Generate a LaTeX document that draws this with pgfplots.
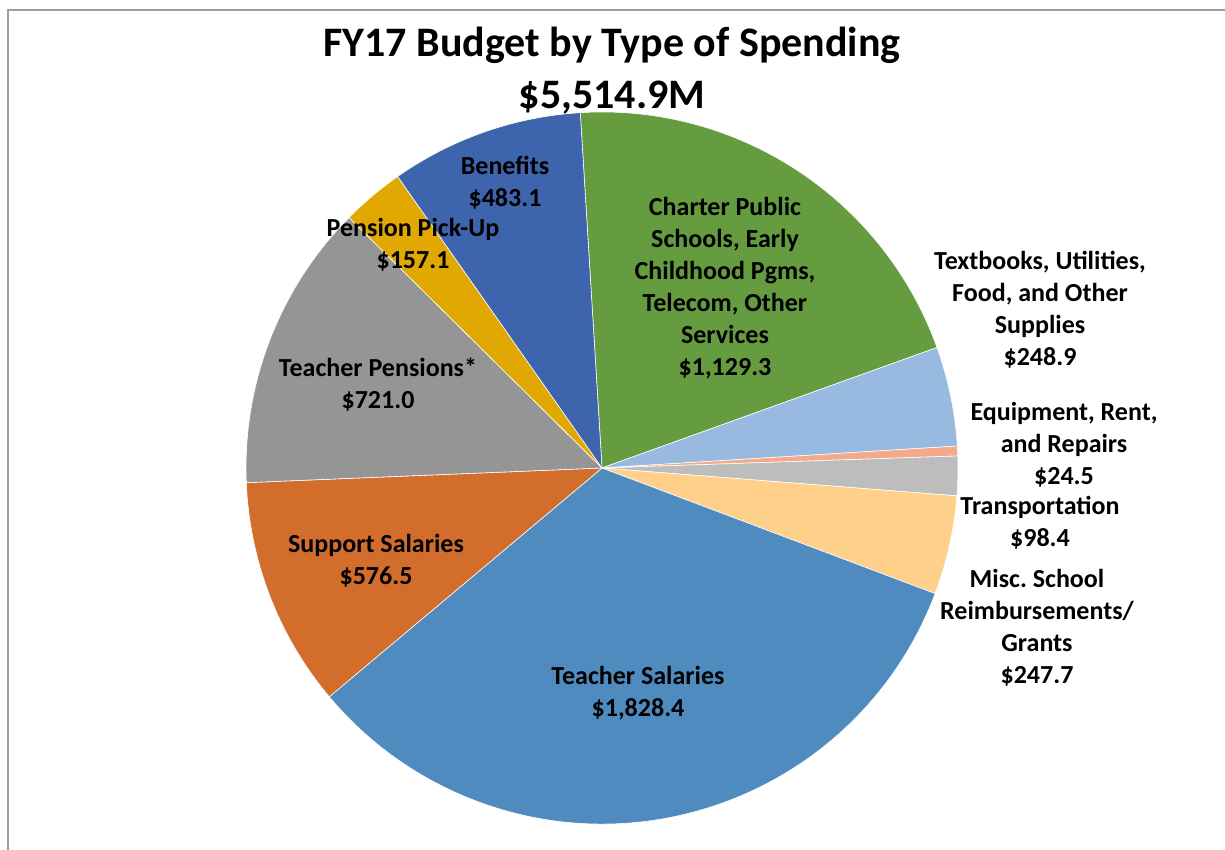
\documentclass[border=0pt]{standalone}
\usepackage{pgfplots}
\usepackage{pgfplotstable}
\pgfplotsset{compat=1.18}
\usepackage{fontspec}
\setmainfont{Carlito}
\frenchspacing

\definecolor{cCharter}{HTML}{659C40}
\definecolor{cText}{HTML}{98B9E0}
\definecolor{cEquip}{HTML}{F4A98A}
\definecolor{cTrans}{HTML}{BDBDBD}
\definecolor{cMisc}{HTML}{FFD08A}
\definecolor{cTeach}{HTML}{508BBF}
\definecolor{cSupport}{HTML}{D36D2B}
\definecolor{cPens}{HTML}{959595}
\definecolor{cPick}{HTML}{E0A800}
\definecolor{cBen}{HTML}{3D64AD}

\tikzset{lbl/.style={font=\fontsize{26}{32}\selectfont\bfseries, align=center, inner sep=0pt}}

% FY17 budget, $M, clockwise from 12 o'clock
\pgfplotstableread{
value  color
1129.3 cCharter
248.9  cText
24.5   cEquip
98.4   cTrans
247.7  cMisc
1828.4 cTeach
576.5  cSupport
721.0  cPens
157.1  cPick
483.1  cBen
}\budget

\begin{document}
\begin{tikzpicture}
\begin{axis}[
hide axis,
scale only axis,
width=1225pt, height=850pt,
xmin=0, xmax=1225, ymin=0, ymax=850,
clip=false,
]
\coordinate (bl) at (axis cs:0,0);
\coordinate (tr) at (axis cs:1225,850);
\draw[black!38, line width=2pt] (axis cs:8,0) -- (axis cs:8,840) -- (axis cs:1225,840);

\def\cum{0}
\pgfplotsforeachungrouped \i in {0,...,9}{
  \pgfplotstablegetelem{\i}{value}\of\budget \let\val\pgfplotsretval
  \pgfplotstablegetelem{\i}{color}\of\budget \let\col\pgfplotsretval
  \pgfmathsetmacro\aS{93.5-(\cum/5514.9)*360}
  \pgfmathsetmacro\aD{-(\val/5514.9)*360}
  \edef\doslice{\noexpand\fill[\col, draw=white, line width=0.6pt]
    (axis cs:602,382) -- ([shift={(\aS:356pt)}]axis cs:602,382)
    arc[start angle=\aS, delta angle=\aD, radius=356pt] -- cycle;}
  \doslice
  \pgfmathsetmacro\cum{\cum+\val}
}

\node[anchor=base, font=\fontsize{42}{50}\selectfont\bfseries] at (axis cs:612,793) {FY17 Budget by Type of Spending};
\node[anchor=base, font=\fontsize{42}{50}\selectfont\bfseries] at (axis cs:612,741) {\$5,514.9M};

\node[lbl] at (axis cs:505,667) {Benefits\\\$483.1};
\node[lbl] at (axis cs:413,605) {Pension Pick-Up\\\$157.1};
\node[lbl] at (axis cs:725,562) {Charter Public\\Schools, Early\\Childhood Pgms,\\Telecom, Other\\Services\\\$1,129.3};
\node[lbl] at (axis cs:1040,540) {Textbooks, Utilities,\\Food, and Other\\Supplies\\\$248.9};
\node[lbl] at (axis cs:1064,405) {Equipment, Rent,\\and Repairs\\\$24.5};
\node[lbl] at (axis cs:1040,327) {Transportation\\\$98.4};
\node[lbl] at (axis cs:1037,222) {Misc. School\\Reimbursements/\\Grants\\\$247.7};
\node[lbl] at (axis cs:638,157) {Teacher Salaries\\\$1,828.4};
\node[lbl] at (axis cs:376,289) {Support Salaries\\\$576.5};
\node[lbl] at (axis cs:378,465) {Teacher Pensions*\\\$721.0};
\end{axis}
\pgfresetboundingbox
\path[use as bounding box] (bl) rectangle (tr);
\end{tikzpicture}
\end{document}
